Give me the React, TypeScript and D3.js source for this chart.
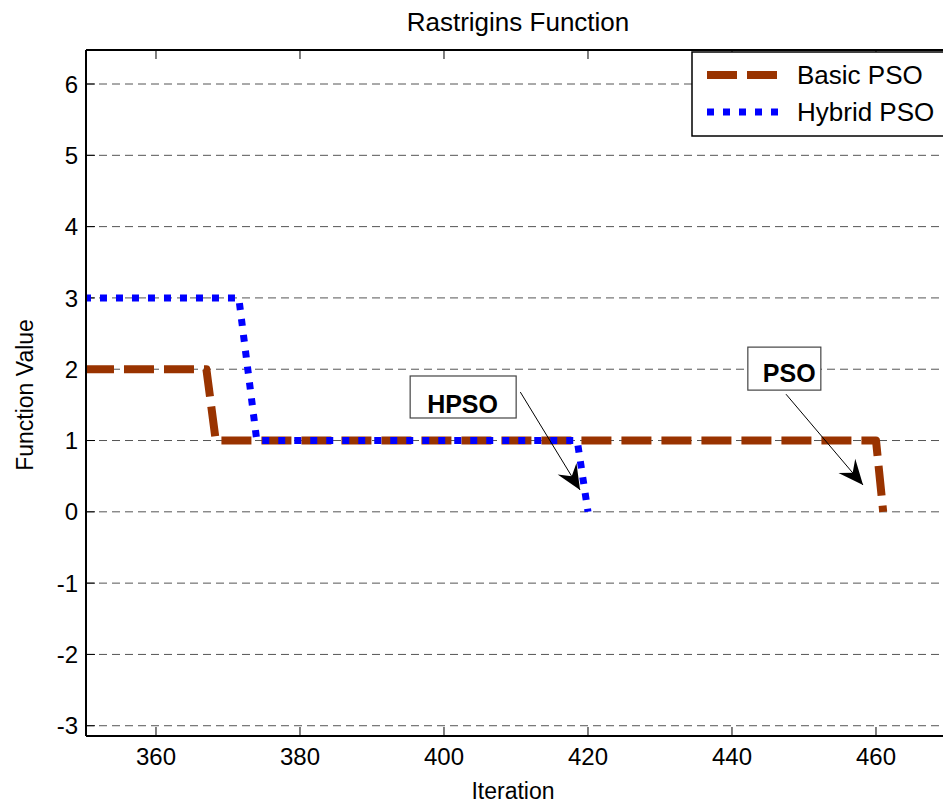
import React from "react";
import * as d3 from "d3";

const title = "Rastrigins Function";
const xLabel = "Iteration";
const yLabel = "Function Value";
const xTicks = [360, 380, 400, 420, 440, 460];
const yTicks = [-3, -2, -1, 0, 1, 2, 3, 4, 5, 6];
const basicIter = [350, 367, 368.3, 460, 461];
const basicVal = [2, 2, 1, 1, 0];
const hybridIter = [350, 371.5, 374, 418.5, 420];
const hybridVal = [3, 3, 1, 1, 0];
const seriesNames = ["Basic PSO", "Hybrid PSO"];
const annotations = [
  { label: "HPSO", boxX: 395.3, boxY: 1.905, tipX: 418.9, tipY: 0.306, fromX: 410.6, fromY: 1.68 },
  { label: "PSO", boxX: 442.2, boxY: 2.31, tipX: 458.2, tipY: 0.376, fromX: 447.5, fromY: 1.65 },
];

const W = 943, H = 807;
const L = 86, T = 50, B = 736, R = 948;

export default function App() {
  const x = d3.scaleLinear().domain([350.28, 470]).range([L, R]);
  const y = d3.scaleLinear().domain([-3.144, 6.477]).range([B, T]);
  const line = d3.line<[number, number]>().x((d) => x(d[0])).y((d) => y(d[1]));
  const basic = basicIter.map((v, i) => [v, basicVal[i]] as [number, number]);
  const hybrid = hybridIter.map((v, i) => [v, hybridVal[i]] as [number, number]);
  const font = "Arial, 'Liberation Sans', Helvetica, sans-serif";

  const arrow = (fx: number, fy: number, tx: number, ty: number) => {
    const ang = Math.atan2(ty - fy, tx - fx);
    const len = 25, half = 11, back = 16;
    const p = (d: number, o: number) => [
      tx - d * Math.cos(ang) - o * Math.sin(ang),
      ty - d * Math.sin(ang) + o * Math.cos(ang),
    ];
    const a = p(len, half), b = p(back, 0), c = p(len, -half);
    return `M${tx},${ty}L${a[0]},${a[1]}L${b[0]},${b[1]}L${c[0]},${c[1]}Z`;
  };

  return (
    <svg width={W} height={H} style={{ position: "absolute", left: 0, top: 0, background: "#fff" }} fontFamily={font}>
      <defs>
        <clipPath id="plot">
          <rect x={L} y={T} width={R - L} height={B - T} />
        </clipPath>
      </defs>
      <rect x={0} y={0} width={W} height={H} fill="#fff" />
      {yTicks.map((t) => (
        <line key={"gy" + t} x1={L} x2={R} y1={y(t)} y2={y(t)} stroke="#555" strokeWidth={1} strokeDasharray="8,5" />
      ))}
      {xTicks.map((t) => (
        <g key={"tx" + t}>
          <line x1={x(t)} x2={x(t)} y1={B} y2={B - 9} stroke="#000" />
          <line x1={x(t)} x2={x(t)} y1={T} y2={T + 9} stroke="#000" />
          <text x={x(t)} y={765} textAnchor="middle" fontSize={24}>{t}</text>
        </g>
      ))}
      {yTicks.map((t) => (
        <g key={"ty" + t}>
          <line x1={L} x2={L + 9} y1={y(t)} y2={y(t)} stroke="#000" />
          <text x={78} y={y(t)} dy="0.36em" textAnchor="end" fontSize={24}>{t}</text>
        </g>
      ))}
      <g clipPath="url(#plot)">
        <path d={line(basic) || ""} fill="none" stroke="#993300" strokeWidth={8} strokeDasharray="30,10" strokeLinejoin="round" />
        <path d={line(hybrid) || ""} fill="none" stroke="#0000ff" strokeWidth={7} strokeDasharray="7,9" strokeLinejoin="miter" />
      </g>
      <line x1={L} x2={L} y1={T} y2={B} stroke="#000" strokeWidth={2} />
      <line x1={L} x2={R} y1={B} y2={B} stroke="#000" strokeWidth={2} />
      <line x1={L} x2={R} y1={T} y2={T} stroke="#000" strokeWidth={2} />
      {annotations.map((a, i) => {
        const bx = x(a.boxX), by = y(a.boxY);
        const bw = i === 0 ? 106 : 73, bh = i === 0 ? 42 : 43;
        return (
          <g key={a.label}>
            <path d={arrow(x(a.fromX), y(a.fromY), x(a.tipX), y(a.tipY))} fill="#000" />
            <line x1={x(a.fromX)} y1={y(a.fromY)} x2={x(a.tipX)} y2={y(a.tipY)} stroke="#000" strokeWidth={1} />
            <rect x={bx} y={by} width={bw} height={bh} fill="#fff" stroke="#444" strokeWidth={1.2} />
            <text x={i === 0 ? bx + 17 : bx + 15} y={i === 0 ? by + 37 : by + 35} fontSize={25} fontWeight="bold">{a.label}</text>
          </g>
        );
      })}
      <rect x={692} y={52} width={260} height={84} fill="#fff" stroke="#000" strokeWidth={1.5} />
      <line x1={707} x2={778} y1={75} y2={75} stroke="#993300" strokeWidth={8} strokeDasharray="30,10" />
      <line x1={707} x2={778} y1={112} y2={112} stroke="#0000ff" strokeWidth={7} strokeDasharray="7,9" />
      <text x={797} y={84} fontSize={26}>{seriesNames[0]}</text>
      <text x={797} y={121} fontSize={26}>{seriesNames[1]}</text>
      <text x={518} y={31} textAnchor="middle" fontSize={26}>{title}</text>
      <text x={513} y={799} textAnchor="middle" fontSize={23}>{xLabel}</text>
      <text transform={`translate(33,395) rotate(-90)`} textAnchor="middle" fontSize={23}>{yLabel}</text>
    </svg>
  );
}
